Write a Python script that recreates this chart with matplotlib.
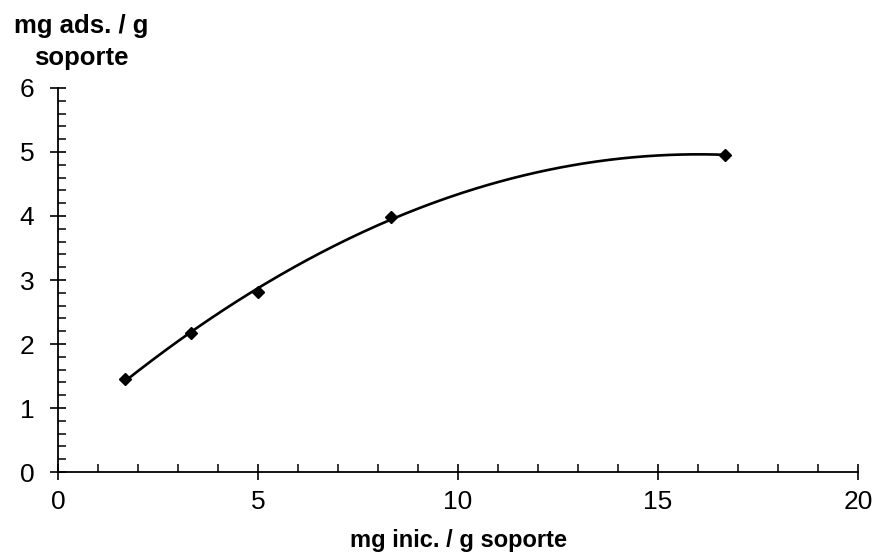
import numpy as np
import matplotlib
matplotlib.use("Agg")
import matplotlib.pyplot as plt
from matplotlib.ticker import MultipleLocator

plt.rcParams['font.family'] = ['Liberation Sans', 'DejaVu Sans']

# Measured adsorption data
mg_inic = [1.67, 3.33, 5.0, 8.33, 16.67]
mg_ads = [1.45, 2.17, 2.82, 3.99, 4.95]
x_ticks = [0, 5, 10, 15, 20]
y_ticks = [0, 1, 2, 3, 4, 5, 6]

fig = plt.figure(figsize=(8.84, 5.59), dpi=100)
ax = fig.add_axes([0.0656, 0.1556, 0.905, 0.687])

# Polynomial trend line through the measurements
coef = np.polyfit(mg_inic, mg_ads, 2)
xs = np.linspace(min(mg_inic), max(mg_inic), 300)
ax.plot(xs, np.polyval(coef, xs), color='black', lw=1.9, zorder=2)
ax.plot(mg_inic, mg_ads, linestyle='none', marker='D', ms=6.5,
        color='black', zorder=3)

ax.set_xlim(0, 20)
ax.set_ylim(0, 6)
ax.set_xticks(x_ticks)
ax.set_yticks(y_ticks)
ax.xaxis.set_minor_locator(MultipleLocator(1))
ax.yaxis.set_minor_locator(MultipleLocator(0.2))

for s in ['top', 'right']:
    ax.spines[s].set_visible(False)
for s in ['left', 'bottom']:
    ax.spines[s].set_linewidth(1.3)

ax.tick_params(which='major', direction='inout', length=12, width=1.2,
               labelsize=19, pad=7)
ax.tick_params(axis='y', which='major', pad=11)
ax.tick_params(which='minor', direction='in', length=6, width=1.1)

ax.set_xlabel('mg inic. / g soporte', fontsize=17, fontweight='bold',
              labelpad=11)
fig.text(0.092, 0.875, 'mg ads. / g\nsoporte', ha='center', va='bottom',
         fontsize=18.5, fontweight='bold', linespacing=1.4)

fig.savefig('out.png', dpi=100, facecolor='white')
